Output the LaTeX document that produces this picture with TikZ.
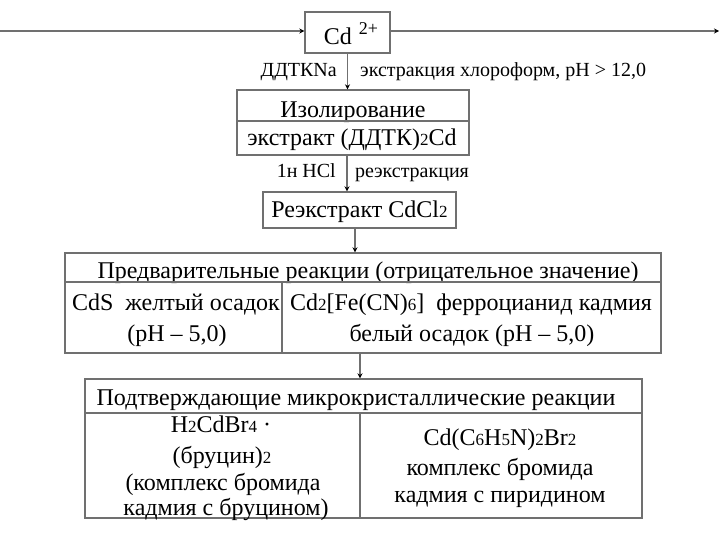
\documentclass[tikz,border=0pt]{standalone}
\usepackage{fontspec}
\setmainfont{Liberation Serif}
\usetikzlibrary{arrows.meta}

\definecolor{linegray}{RGB}{112,112,112}
\newcommand{\ix}[1]{{\fontsize{17}{17}\selectfont #1}}

\begin{document}
\begin{tikzpicture}[x=1pt, y=-1pt,
    box/.style={shape=rectangle, draw=linegray, line width=1.4pt, inner sep=0pt},
    txt/.style={inner sep=0pt, anchor=base, font=\fontsize{24}{26}\selectfont},
    lbl/.style={inner sep=0pt, font=\fontsize{20}{22}\selectfont},
    arr/.style={draw=linegray, line width=1.4pt, -{Stealth[length=5pt, width=5pt, black]}}]
        \useasboundingbox (0,0) rectangle (720,540);

        % input line and Cd box
        \coordinate (in) at (0, 31);
        \coordinate (out) at (719, 31);
        \node[box, minimum width = 85, minimum height = 41] at (347.5, 32.5) (cd) {};
        \node[txt] at (351, 45) (cdt) {Cd\hspace{7pt}\raisebox{10pt}{\fontsize{18}{18}\selectfont 2+}};

        \node[lbl, anchor = base east] at (337, 77) (ddtk) {ДДТКNa};
        \node[lbl, anchor = base west] at (360, 77) (extr) {экстракция хлороформ, pH > 12,0};

        % isolation
        \node[box, minimum width = 232, minimum height = 65] at (353, 122.5) (izol) {};
        \node[txt] at (353, 118) (izol1) {Изолирование};
        \node[txt] at (352, 146) (izol2) {экстракт (ДДТК)\ix{2}Cd};

        \node[lbl, anchor = base east] at (336, 178) (hcl) {1н HCl};
        \node[lbl, anchor = base west] at (355, 178) (reex) {реэкстракция};

        % re-extract
        \node[box, minimum width = 193, minimum height = 36] at (359.5, 210) (cdcl) {};
        \node[txt] at (359.5, 218) (cdclt) {Реэкстракт CdCl\ix{2}};

        % preliminary reactions
        \node[box, minimum width = 596, minimum height = 100] at (363, 303) (pre) {};
        \node[txt] at (368, 278) (pret) {Предварительные реакции (отрицательное значение)};
        \node[txt] at (176, 310) (cds1) {CdS\enspace желтый осадок};
        \node[txt] at (177, 341) (cds2) {(pH – 5,0)};
        \node[txt] at (471, 310) (fe1) {Cd\ix{2}[Fe(CN)\ix{6}]\enspace ферроцианид кадмия};
        \node[txt] at (472, 341) (fe2) {белый осадок (pH – 5,0)};

        % confirming reactions
        \node[box, minimum width = 557, minimum height = 139] at (363.5, 448.5) (conf) {};
        \node[txt] at (356, 405) (conft) {Подтверждающие микрокристаллические реакции};
        \node[txt] at (221, 432) (br1) {H\ix{2}CdBr\ix{4} ·};
        \node[txt] at (222, 463) (br2) {(бруцин)\ix{2}};
        \node[txt] at (223, 490) (br3) {(комплекс бромида};
        \node[txt] at (226, 515) (br4) {кадмия с бруцином)};
        \node[txt] at (500, 445) (py1) {Cd(C\ix{6}H\ix{5}N)\ix{2}Br\ix{2}};
        \node[txt] at (500, 475) (py2) {комплекс бромида};
        \node[txt] at (500, 502) (py3) {кадмия с пиридином};

        % dividers
        \draw[draw = linegray, line width = 1.4pt]
          (237, 121) -- (469, 121)
          (65, 282) -- (661, 282)
          (282, 282) -- (282, 353)
          (85, 413) -- (642, 413)
          (360, 413) -- (360, 518)
        ;

        \draw[arr] (in) -- (cd.west |- in);
        \draw[arr] (cd.east |- out) -- (out);
        \draw[arr] (cd.south) -- (cd.south |- izol.north);
        \draw[arr] (izol.south -| 347, 0) -- (347, 0 |- cdcl.north);
        \draw[arr] (cdcl.south -| 355, 0) -- (355, 0 |- pre.north);
        \draw[arr] (pre.south -| 360, 0) -- (360, 0 |- conf.north);
      \end{tikzpicture}
\end{document}
